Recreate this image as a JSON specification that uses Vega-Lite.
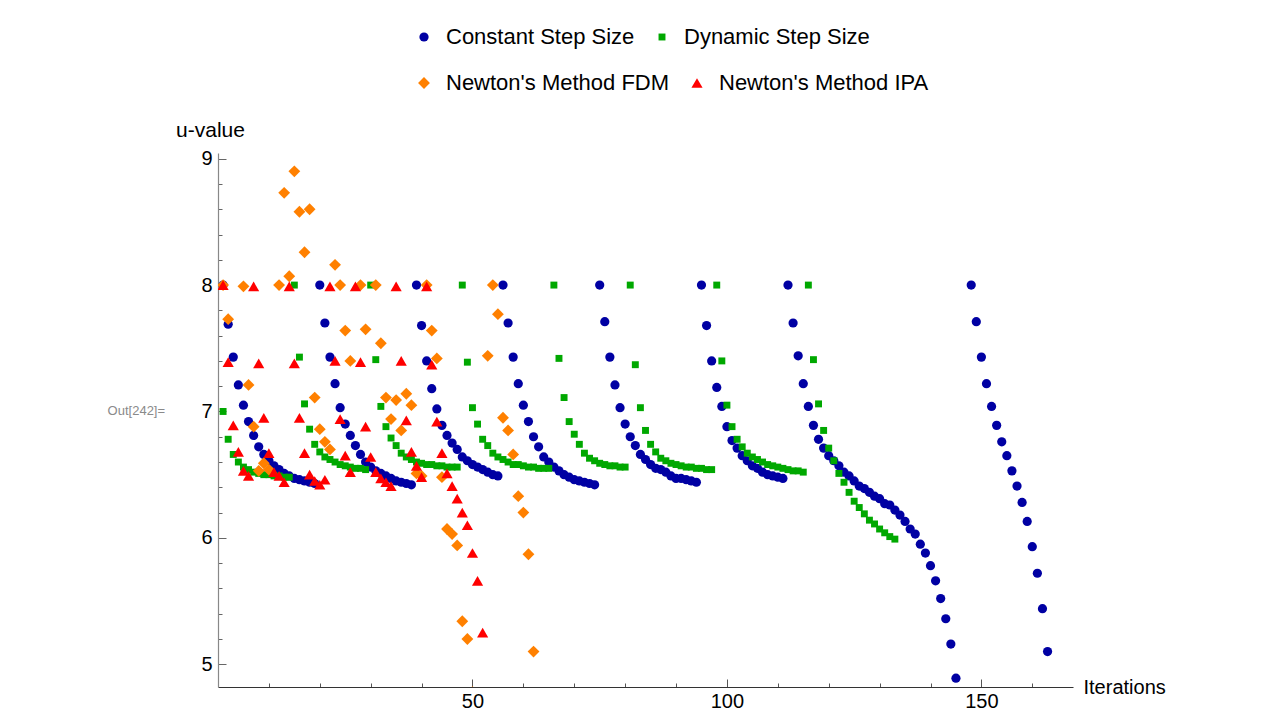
{
"$schema":"https://vega.github.io/schema/vega-lite/v6.json",
"width":855,"height":534,
"autosize":{"type":"none"},
"padding":{"left":218,"top":153,"right":201,"bottom":37},
"config":{"font":"Liberation Sans","view":{"stroke":null},"axis":{"grid":false,"labelColor":"#000","titleColor":"#000","titleFontWeight":"normal","labelOverlap":false,"labelFlush":false}},
"layer":[
{"data":{"values":[
{"method":"Constant Step Size","iteration":1,"u":8.0},{"method":"Constant Step Size","iteration":2,"u":7.69},{"method":"Constant Step Size","iteration":3,"u":7.43},{"method":"Constant Step Size","iteration":4,"u":7.21},{"method":"Constant Step Size","iteration":5,"u":7.05},{"method":"Constant Step Size","iteration":6,"u":6.92},{"method":"Constant Step Size","iteration":7,"u":6.81},{"method":"Constant Step Size","iteration":8,"u":6.72},{"method":"Constant Step Size","iteration":9,"u":6.66},{"method":"Constant Step Size","iteration":10,"u":6.61},{"method":"Constant Step Size","iteration":11,"u":6.57},{"method":"Constant Step Size","iteration":12,"u":6.54},{"method":"Constant Step Size","iteration":13,"u":6.51},{"method":"Constant Step Size","iteration":14,"u":6.49},{"method":"Constant Step Size","iteration":15,"u":6.47},{"method":"Constant Step Size","iteration":16,"u":6.46},{"method":"Constant Step Size","iteration":17,"u":6.45},{"method":"Constant Step Size","iteration":18,"u":6.44},{"method":"Constant Step Size","iteration":19,"u":6.43},
{"method":"Constant Step Size","iteration":20,"u":8.0},{"method":"Constant Step Size","iteration":21,"u":7.70},{"method":"Constant Step Size","iteration":22,"u":7.43},{"method":"Constant Step Size","iteration":23,"u":7.22},{"method":"Constant Step Size","iteration":24,"u":7.03},{"method":"Constant Step Size","iteration":25,"u":6.90},{"method":"Constant Step Size","iteration":26,"u":6.81},{"method":"Constant Step Size","iteration":27,"u":6.73},{"method":"Constant Step Size","iteration":28,"u":6.66},{"method":"Constant Step Size","iteration":29,"u":6.60},{"method":"Constant Step Size","iteration":30,"u":6.56},{"method":"Constant Step Size","iteration":31,"u":6.53},{"method":"Constant Step Size","iteration":32,"u":6.51},{"method":"Constant Step Size","iteration":33,"u":6.49},{"method":"Constant Step Size","iteration":34,"u":6.47},{"method":"Constant Step Size","iteration":35,"u":6.45},{"method":"Constant Step Size","iteration":36,"u":6.44},{"method":"Constant Step Size","iteration":37,"u":6.43},{"method":"Constant Step Size","iteration":38,"u":6.42},
{"method":"Constant Step Size","iteration":39,"u":8.0},{"method":"Constant Step Size","iteration":40,"u":7.68},{"method":"Constant Step Size","iteration":41,"u":7.40},{"method":"Constant Step Size","iteration":42,"u":7.18},{"method":"Constant Step Size","iteration":43,"u":7.02},{"method":"Constant Step Size","iteration":44,"u":6.89},{"method":"Constant Step Size","iteration":45,"u":6.81},{"method":"Constant Step Size","iteration":46,"u":6.75},{"method":"Constant Step Size","iteration":47,"u":6.70},{"method":"Constant Step Size","iteration":48,"u":6.64},{"method":"Constant Step Size","iteration":49,"u":6.61},{"method":"Constant Step Size","iteration":50,"u":6.58},{"method":"Constant Step Size","iteration":51,"u":6.56},{"method":"Constant Step Size","iteration":52,"u":6.54},{"method":"Constant Step Size","iteration":53,"u":6.52},{"method":"Constant Step Size","iteration":54,"u":6.50},{"method":"Constant Step Size","iteration":55,"u":6.49},
{"method":"Constant Step Size","iteration":56,"u":8.0},{"method":"Constant Step Size","iteration":57,"u":7.70},{"method":"Constant Step Size","iteration":58,"u":7.43},{"method":"Constant Step Size","iteration":59,"u":7.22},{"method":"Constant Step Size","iteration":60,"u":7.05},{"method":"Constant Step Size","iteration":61,"u":6.92},{"method":"Constant Step Size","iteration":62,"u":6.80},{"method":"Constant Step Size","iteration":63,"u":6.72},{"method":"Constant Step Size","iteration":64,"u":6.64},{"method":"Constant Step Size","iteration":65,"u":6.60},{"method":"Constant Step Size","iteration":66,"u":6.56},{"method":"Constant Step Size","iteration":67,"u":6.53},{"method":"Constant Step Size","iteration":68,"u":6.50},{"method":"Constant Step Size","iteration":69,"u":6.48},{"method":"Constant Step Size","iteration":70,"u":6.46},{"method":"Constant Step Size","iteration":71,"u":6.45},{"method":"Constant Step Size","iteration":72,"u":6.44},{"method":"Constant Step Size","iteration":73,"u":6.43},{"method":"Constant Step Size","iteration":74,"u":6.42},
{"method":"Constant Step Size","iteration":75,"u":8.0},{"method":"Constant Step Size","iteration":76,"u":7.71},{"method":"Constant Step Size","iteration":77,"u":7.43},{"method":"Constant Step Size","iteration":78,"u":7.21},{"method":"Constant Step Size","iteration":79,"u":7.03},{"method":"Constant Step Size","iteration":80,"u":6.90},{"method":"Constant Step Size","iteration":81,"u":6.80},{"method":"Constant Step Size","iteration":82,"u":6.73},{"method":"Constant Step Size","iteration":83,"u":6.66},{"method":"Constant Step Size","iteration":84,"u":6.62},{"method":"Constant Step Size","iteration":85,"u":6.58},{"method":"Constant Step Size","iteration":86,"u":6.55},{"method":"Constant Step Size","iteration":87,"u":6.54},{"method":"Constant Step Size","iteration":88,"u":6.52},{"method":"Constant Step Size","iteration":89,"u":6.49},{"method":"Constant Step Size","iteration":90,"u":6.47},{"method":"Constant Step Size","iteration":91,"u":6.47},{"method":"Constant Step Size","iteration":92,"u":6.46},{"method":"Constant Step Size","iteration":93,"u":6.45},{"method":"Constant Step Size","iteration":94,"u":6.44},
{"method":"Constant Step Size","iteration":95,"u":8.0},{"method":"Constant Step Size","iteration":96,"u":7.68},{"method":"Constant Step Size","iteration":97,"u":7.40},{"method":"Constant Step Size","iteration":98,"u":7.19},{"method":"Constant Step Size","iteration":99,"u":7.04},{"method":"Constant Step Size","iteration":100,"u":6.88},{"method":"Constant Step Size","iteration":101,"u":6.77},{"method":"Constant Step Size","iteration":102,"u":6.71},{"method":"Constant Step Size","iteration":103,"u":6.65},{"method":"Constant Step Size","iteration":104,"u":6.61},{"method":"Constant Step Size","iteration":105,"u":6.57},{"method":"Constant Step Size","iteration":106,"u":6.55},{"method":"Constant Step Size","iteration":107,"u":6.52},{"method":"Constant Step Size","iteration":108,"u":6.50},{"method":"Constant Step Size","iteration":109,"u":6.49},{"method":"Constant Step Size","iteration":110,"u":6.48},{"method":"Constant Step Size","iteration":111,"u":6.47},
{"method":"Constant Step Size","iteration":112,"u":8.0},{"method":"Constant Step Size","iteration":113,"u":7.70},{"method":"Constant Step Size","iteration":114,"u":7.44},{"method":"Constant Step Size","iteration":115,"u":7.22},{"method":"Constant Step Size","iteration":116,"u":7.04},{"method":"Constant Step Size","iteration":117,"u":6.89},{"method":"Constant Step Size","iteration":118,"u":6.78},{"method":"Constant Step Size","iteration":119,"u":6.71},{"method":"Constant Step Size","iteration":120,"u":6.65},{"method":"Constant Step Size","iteration":121,"u":6.61},{"method":"Constant Step Size","iteration":122,"u":6.57},{"method":"Constant Step Size","iteration":123,"u":6.52},{"method":"Constant Step Size","iteration":124,"u":6.49},{"method":"Constant Step Size","iteration":125,"u":6.45},{"method":"Constant Step Size","iteration":126,"u":6.41},{"method":"Constant Step Size","iteration":127,"u":6.39},{"method":"Constant Step Size","iteration":128,"u":6.36},{"method":"Constant Step Size","iteration":129,"u":6.33},{"method":"Constant Step Size","iteration":130,"u":6.31},{"method":"Constant Step Size","iteration":131,"u":6.27},{"method":"Constant Step Size","iteration":132,"u":6.26},{"method":"Constant Step Size","iteration":133,"u":6.22},{"method":"Constant Step Size","iteration":134,"u":6.18},{"method":"Constant Step Size","iteration":135,"u":6.13},{"method":"Constant Step Size","iteration":136,"u":6.07},{"method":"Constant Step Size","iteration":137,"u":6.03},{"method":"Constant Step Size","iteration":138,"u":5.95},{"method":"Constant Step Size","iteration":139,"u":5.88},{"method":"Constant Step Size","iteration":140,"u":5.78},{"method":"Constant Step Size","iteration":141,"u":5.66},{"method":"Constant Step Size","iteration":142,"u":5.52},{"method":"Constant Step Size","iteration":143,"u":5.36},{"method":"Constant Step Size","iteration":144,"u":5.16},{"method":"Constant Step Size","iteration":145,"u":4.89},
{"method":"Constant Step Size","iteration":148,"u":8.0},{"method":"Constant Step Size","iteration":149,"u":7.71},{"method":"Constant Step Size","iteration":150,"u":7.43},{"method":"Constant Step Size","iteration":151,"u":7.22},{"method":"Constant Step Size","iteration":152,"u":7.04},{"method":"Constant Step Size","iteration":153,"u":6.89},{"method":"Constant Step Size","iteration":154,"u":6.76},{"method":"Constant Step Size","iteration":155,"u":6.65},{"method":"Constant Step Size","iteration":156,"u":6.53},{"method":"Constant Step Size","iteration":157,"u":6.41},{"method":"Constant Step Size","iteration":158,"u":6.28},{"method":"Constant Step Size","iteration":159,"u":6.13},{"method":"Constant Step Size","iteration":160,"u":5.93},{"method":"Constant Step Size","iteration":161,"u":5.72},{"method":"Constant Step Size","iteration":162,"u":5.44},{"method":"Constant Step Size","iteration":163,"u":5.10},
{"method":"Dynamic Step Size","iteration":1,"u":7.0},{"method":"Dynamic Step Size","iteration":2,"u":6.78},{"method":"Dynamic Step Size","iteration":3,"u":6.66},{"method":"Dynamic Step Size","iteration":4,"u":6.60},{"method":"Dynamic Step Size","iteration":5,"u":6.56},{"method":"Dynamic Step Size","iteration":6,"u":6.54},{"method":"Dynamic Step Size","iteration":7,"u":6.52},{"method":"Dynamic Step Size","iteration":8,"u":6.51},{"method":"Dynamic Step Size","iteration":9,"u":6.50},{"method":"Dynamic Step Size","iteration":10,"u":6.50},{"method":"Dynamic Step Size","iteration":11,"u":6.49},{"method":"Dynamic Step Size","iteration":12,"u":6.49},{"method":"Dynamic Step Size","iteration":13,"u":6.48},{"method":"Dynamic Step Size","iteration":14,"u":6.48},
{"method":"Dynamic Step Size","iteration":15,"u":8.0},{"method":"Dynamic Step Size","iteration":16,"u":7.43},{"method":"Dynamic Step Size","iteration":17,"u":7.06},{"method":"Dynamic Step Size","iteration":18,"u":6.86},{"method":"Dynamic Step Size","iteration":19,"u":6.74},{"method":"Dynamic Step Size","iteration":20,"u":6.68},{"method":"Dynamic Step Size","iteration":21,"u":6.64},{"method":"Dynamic Step Size","iteration":22,"u":6.62},{"method":"Dynamic Step Size","iteration":23,"u":6.60},{"method":"Dynamic Step Size","iteration":24,"u":6.58},{"method":"Dynamic Step Size","iteration":25,"u":6.57},{"method":"Dynamic Step Size","iteration":26,"u":6.56},{"method":"Dynamic Step Size","iteration":27,"u":6.55},{"method":"Dynamic Step Size","iteration":28,"u":6.55},{"method":"Dynamic Step Size","iteration":29,"u":6.54},
{"method":"Dynamic Step Size","iteration":30,"u":8.0},{"method":"Dynamic Step Size","iteration":31,"u":7.41},{"method":"Dynamic Step Size","iteration":32,"u":7.04},{"method":"Dynamic Step Size","iteration":33,"u":6.88},{"method":"Dynamic Step Size","iteration":34,"u":6.79},{"method":"Dynamic Step Size","iteration":35,"u":6.73},{"method":"Dynamic Step Size","iteration":36,"u":6.67},{"method":"Dynamic Step Size","iteration":37,"u":6.64},{"method":"Dynamic Step Size","iteration":38,"u":6.62},{"method":"Dynamic Step Size","iteration":39,"u":6.60},{"method":"Dynamic Step Size","iteration":40,"u":6.59},{"method":"Dynamic Step Size","iteration":41,"u":6.58},{"method":"Dynamic Step Size","iteration":42,"u":6.58},{"method":"Dynamic Step Size","iteration":43,"u":6.57},{"method":"Dynamic Step Size","iteration":44,"u":6.57},{"method":"Dynamic Step Size","iteration":45,"u":6.56},{"method":"Dynamic Step Size","iteration":46,"u":6.56},{"method":"Dynamic Step Size","iteration":47,"u":6.56},
{"method":"Dynamic Step Size","iteration":48,"u":8.0},{"method":"Dynamic Step Size","iteration":49,"u":7.39},{"method":"Dynamic Step Size","iteration":50,"u":7.03},{"method":"Dynamic Step Size","iteration":51,"u":6.90},{"method":"Dynamic Step Size","iteration":52,"u":6.78},{"method":"Dynamic Step Size","iteration":53,"u":6.73},{"method":"Dynamic Step Size","iteration":54,"u":6.67},{"method":"Dynamic Step Size","iteration":55,"u":6.64},{"method":"Dynamic Step Size","iteration":56,"u":6.62},{"method":"Dynamic Step Size","iteration":57,"u":6.60},{"method":"Dynamic Step Size","iteration":58,"u":6.58},{"method":"Dynamic Step Size","iteration":59,"u":6.58},{"method":"Dynamic Step Size","iteration":60,"u":6.57},{"method":"Dynamic Step Size","iteration":61,"u":6.56},{"method":"Dynamic Step Size","iteration":62,"u":6.56},{"method":"Dynamic Step Size","iteration":63,"u":6.55},{"method":"Dynamic Step Size","iteration":64,"u":6.55},{"method":"Dynamic Step Size","iteration":65,"u":6.55},
{"method":"Dynamic Step Size","iteration":66,"u":8.0},{"method":"Dynamic Step Size","iteration":67,"u":7.42},{"method":"Dynamic Step Size","iteration":68,"u":7.11},{"method":"Dynamic Step Size","iteration":69,"u":6.92},{"method":"Dynamic Step Size","iteration":70,"u":6.82},{"method":"Dynamic Step Size","iteration":71,"u":6.74},{"method":"Dynamic Step Size","iteration":72,"u":6.67},{"method":"Dynamic Step Size","iteration":73,"u":6.63},{"method":"Dynamic Step Size","iteration":74,"u":6.61},{"method":"Dynamic Step Size","iteration":75,"u":6.59},{"method":"Dynamic Step Size","iteration":76,"u":6.58},{"method":"Dynamic Step Size","iteration":77,"u":6.57},{"method":"Dynamic Step Size","iteration":78,"u":6.57},{"method":"Dynamic Step Size","iteration":79,"u":6.56},{"method":"Dynamic Step Size","iteration":80,"u":6.56},
{"method":"Dynamic Step Size","iteration":81,"u":8.0},{"method":"Dynamic Step Size","iteration":82,"u":7.37},{"method":"Dynamic Step Size","iteration":83,"u":7.03},{"method":"Dynamic Step Size","iteration":84,"u":6.85},{"method":"Dynamic Step Size","iteration":85,"u":6.74},{"method":"Dynamic Step Size","iteration":86,"u":6.68},{"method":"Dynamic Step Size","iteration":87,"u":6.63},{"method":"Dynamic Step Size","iteration":88,"u":6.61},{"method":"Dynamic Step Size","iteration":89,"u":6.59},{"method":"Dynamic Step Size","iteration":90,"u":6.58},{"method":"Dynamic Step Size","iteration":91,"u":6.57},{"method":"Dynamic Step Size","iteration":92,"u":6.56},{"method":"Dynamic Step Size","iteration":93,"u":6.56},{"method":"Dynamic Step Size","iteration":94,"u":6.55},{"method":"Dynamic Step Size","iteration":95,"u":6.55},{"method":"Dynamic Step Size","iteration":96,"u":6.54},{"method":"Dynamic Step Size","iteration":97,"u":6.54},
{"method":"Dynamic Step Size","iteration":98,"u":8.0},{"method":"Dynamic Step Size","iteration":99,"u":7.40},{"method":"Dynamic Step Size","iteration":100,"u":7.05},{"method":"Dynamic Step Size","iteration":101,"u":6.88},{"method":"Dynamic Step Size","iteration":102,"u":6.78},{"method":"Dynamic Step Size","iteration":103,"u":6.72},{"method":"Dynamic Step Size","iteration":104,"u":6.67},{"method":"Dynamic Step Size","iteration":105,"u":6.64},{"method":"Dynamic Step Size","iteration":106,"u":6.62},{"method":"Dynamic Step Size","iteration":107,"u":6.60},{"method":"Dynamic Step Size","iteration":108,"u":6.58},{"method":"Dynamic Step Size","iteration":109,"u":6.57},{"method":"Dynamic Step Size","iteration":110,"u":6.56},{"method":"Dynamic Step Size","iteration":111,"u":6.55},{"method":"Dynamic Step Size","iteration":112,"u":6.54},{"method":"Dynamic Step Size","iteration":113,"u":6.53},{"method":"Dynamic Step Size","iteration":114,"u":6.53},{"method":"Dynamic Step Size","iteration":115,"u":6.52},
{"method":"Dynamic Step Size","iteration":116,"u":8.0},{"method":"Dynamic Step Size","iteration":117,"u":7.41},{"method":"Dynamic Step Size","iteration":118,"u":7.06},{"method":"Dynamic Step Size","iteration":119,"u":6.85},{"method":"Dynamic Step Size","iteration":120,"u":6.71},{"method":"Dynamic Step Size","iteration":121,"u":6.61},{"method":"Dynamic Step Size","iteration":122,"u":6.51},{"method":"Dynamic Step Size","iteration":123,"u":6.44},{"method":"Dynamic Step Size","iteration":124,"u":6.36},{"method":"Dynamic Step Size","iteration":125,"u":6.29},{"method":"Dynamic Step Size","iteration":126,"u":6.24},{"method":"Dynamic Step Size","iteration":127,"u":6.19},{"method":"Dynamic Step Size","iteration":128,"u":6.14},{"method":"Dynamic Step Size","iteration":129,"u":6.11},{"method":"Dynamic Step Size","iteration":130,"u":6.07},{"method":"Dynamic Step Size","iteration":131,"u":6.04},{"method":"Dynamic Step Size","iteration":132,"u":6.01},{"method":"Dynamic Step Size","iteration":133,"u":5.99}
]},
"mark":{"type":"point","filled":true,"opacity":1,"clip":true},
"encoding":{
"x":{"field":"iteration","type":"quantitative","scale":{"domain":[0,168],"nice":false,"zero":false},
"axis":{"values":[10,20,30,40,50,60,70,80,90,100,110,120,130,140,150,160],"tickCount":100,"labelExpr":"datum.value % 50 === 0 ? datum.label : ''","labelOverlap":false,"tickSize":{"condition":{"test":"datum.value % 50 === 0","value":-8},"value":-4},"tickWidth":1,"labelPadding":12,"labelFontSize":20,"domainColor":"#333","domainWidth":1.2,"tickColor":"#555","title":"Iterations","titleFontSize":20,"titleAlign":"left","titleBaseline":"middle","titleAnchor":"start","titleX":865,"titleY":0}},
"y":{"field":"u","type":"quantitative","scale":{"domain":[4.82,9.045],"nice":false,"zero":false},
"axis":{"values":[5,5.2,5.4,5.6,5.8,6,6.2,6.4,6.6,6.8,7,7.2,7.4,7.6,7.8,8,8.2,8.4,8.6,8.8,9],"tickCount":100,"labelExpr":"abs(datum.value-round(datum.value))<0.001 ? format(datum.value,'d') : ''","labelOverlap":false,"tickSize":{"condition":{"test":"abs(datum.value-round(datum.value))<0.001","value":-8},"value":-4},"tickWidth":1,"labelPadding":14,"labelFontSize":20,"domainColor":"#888","domainWidth":1.2,"tickColor":"#666","title":"u-value","titleFontSize":21,"titleAngle":0,"titleAlign":"center","titleBaseline":"middle","titleX":-8,"titleY":-23}},
"color":{"field":"method","type":"nominal","scale":{"domain":["Constant Step Size","Dynamic Step Size"],"range":["#0000a3","#00a800"]},
"legend":{"title":null,"orient":"none","legendX":195,"legendY":-127,"direction":"horizontal","labelFontSize":22,"labelLimit":0,"labelOffset":11,"columnPadding":16,"padding":0,"labelColor":"#000","symbolOpacity":1}},
"shape":{"field":"method","type":"nominal","scale":{"domain":["Constant Step Size","Dynamic Step Size"],"range":["circle","square"]}},
"size":{"field":"method","type":"nominal","scale":{"domain":["Constant Step Size","Dynamic Step Size"],"range":[85,48]}}
}},
{"data":{"values":[
{"method":"Newton's Method FDM","iteration":1,"u":8.0},{"method":"Newton's Method FDM","iteration":2,"u":7.73},{"method":"Newton's Method FDM","iteration":5,"u":7.99},{"method":"Newton's Method FDM","iteration":6,"u":7.21},{"method":"Newton's Method FDM","iteration":7,"u":6.88},{"method":"Newton's Method FDM","iteration":8,"u":6.53},{"method":"Newton's Method FDM","iteration":9,"u":6.59},{"method":"Newton's Method FDM","iteration":10,"u":6.54},{"method":"Newton's Method FDM","iteration":12,"u":8.0},{"method":"Newton's Method FDM","iteration":13,"u":8.73},{"method":"Newton's Method FDM","iteration":14,"u":8.07},{"method":"Newton's Method FDM","iteration":15,"u":8.90},{"method":"Newton's Method FDM","iteration":16,"u":8.58},{"method":"Newton's Method FDM","iteration":17,"u":8.26},{"method":"Newton's Method FDM","iteration":18,"u":8.60},{"method":"Newton's Method FDM","iteration":19,"u":7.11},{"method":"Newton's Method FDM","iteration":20,"u":6.86},{"method":"Newton's Method FDM","iteration":21,"u":6.76},{"method":"Newton's Method FDM","iteration":22,"u":6.70},{"method":"Newton's Method FDM","iteration":23,"u":8.16},{"method":"Newton's Method FDM","iteration":24,"u":8.0},{"method":"Newton's Method FDM","iteration":25,"u":7.64},{"method":"Newton's Method FDM","iteration":26,"u":7.40},{"method":"Newton's Method FDM","iteration":28,"u":8.0},{"method":"Newton's Method FDM","iteration":29,"u":7.65},{"method":"Newton's Method FDM","iteration":31,"u":8.0},{"method":"Newton's Method FDM","iteration":32,"u":7.54},{"method":"Newton's Method FDM","iteration":33,"u":7.11},{"method":"Newton's Method FDM","iteration":34,"u":6.94},{"method":"Newton's Method FDM","iteration":35,"u":7.09},{"method":"Newton's Method FDM","iteration":36,"u":6.85},{"method":"Newton's Method FDM","iteration":37,"u":7.14},{"method":"Newton's Method FDM","iteration":38,"u":7.05},{"method":"Newton's Method FDM","iteration":39,"u":6.51},{"method":"Newton's Method FDM","iteration":40,"u":6.49},{"method":"Newton's Method FDM","iteration":41,"u":8.0},{"method":"Newton's Method FDM","iteration":42,"u":7.64},{"method":"Newton's Method FDM","iteration":43,"u":7.42},{"method":"Newton's Method FDM","iteration":44,"u":6.48},{"method":"Newton's Method FDM","iteration":45,"u":6.07},{"method":"Newton's Method FDM","iteration":46,"u":6.03},{"method":"Newton's Method FDM","iteration":47,"u":5.94},{"method":"Newton's Method FDM","iteration":48,"u":5.34},{"method":"Newton's Method FDM","iteration":49,"u":5.20},{"method":"Newton's Method FDM","iteration":50,"u":4.78},{"method":"Newton's Method FDM","iteration":53,"u":7.44},{"method":"Newton's Method FDM","iteration":54,"u":8.0},{"method":"Newton's Method FDM","iteration":55,"u":7.77},{"method":"Newton's Method FDM","iteration":56,"u":6.95},{"method":"Newton's Method FDM","iteration":57,"u":6.85},{"method":"Newton's Method FDM","iteration":58,"u":6.66},{"method":"Newton's Method FDM","iteration":59,"u":6.33},{"method":"Newton's Method FDM","iteration":60,"u":6.20},{"method":"Newton's Method FDM","iteration":61,"u":5.87},{"method":"Newton's Method FDM","iteration":62,"u":5.10},
{"method":"Newton's Method IPA","iteration":1,"u":8.0},{"method":"Newton's Method IPA","iteration":2,"u":7.39},{"method":"Newton's Method IPA","iteration":3,"u":6.89},{"method":"Newton's Method IPA","iteration":4,"u":6.68},{"method":"Newton's Method IPA","iteration":5,"u":6.53},{"method":"Newton's Method IPA","iteration":6,"u":6.49},{"method":"Newton's Method IPA","iteration":7,"u":7.99},{"method":"Newton's Method IPA","iteration":8,"u":7.38},{"method":"Newton's Method IPA","iteration":9,"u":6.95},{"method":"Newton's Method IPA","iteration":10,"u":6.67},{"method":"Newton's Method IPA","iteration":11,"u":6.52},{"method":"Newton's Method IPA","iteration":12,"u":6.49},{"method":"Newton's Method IPA","iteration":13,"u":6.44},{"method":"Newton's Method IPA","iteration":14,"u":7.99},{"method":"Newton's Method IPA","iteration":15,"u":7.38},{"method":"Newton's Method IPA","iteration":16,"u":6.95},{"method":"Newton's Method IPA","iteration":17,"u":6.67},{"method":"Newton's Method IPA","iteration":18,"u":6.50},{"method":"Newton's Method IPA","iteration":19,"u":6.45},{"method":"Newton's Method IPA","iteration":20,"u":6.42},{"method":"Newton's Method IPA","iteration":21,"u":6.46},{"method":"Newton's Method IPA","iteration":22,"u":7.99},{"method":"Newton's Method IPA","iteration":23,"u":7.40},{"method":"Newton's Method IPA","iteration":24,"u":6.94},{"method":"Newton's Method IPA","iteration":25,"u":6.65},{"method":"Newton's Method IPA","iteration":26,"u":6.52},{"method":"Newton's Method IPA","iteration":27,"u":7.99},{"method":"Newton's Method IPA","iteration":28,"u":7.39},{"method":"Newton's Method IPA","iteration":29,"u":6.88},{"method":"Newton's Method IPA","iteration":30,"u":6.64},{"method":"Newton's Method IPA","iteration":31,"u":6.52},{"method":"Newton's Method IPA","iteration":32,"u":6.47},{"method":"Newton's Method IPA","iteration":33,"u":6.44},{"method":"Newton's Method IPA","iteration":34,"u":6.41},{"method":"Newton's Method IPA","iteration":35,"u":7.99},{"method":"Newton's Method IPA","iteration":36,"u":7.40},{"method":"Newton's Method IPA","iteration":37,"u":6.93},{"method":"Newton's Method IPA","iteration":38,"u":6.68},{"method":"Newton's Method IPA","iteration":39,"u":6.57},{"method":"Newton's Method IPA","iteration":40,"u":6.48},{"method":"Newton's Method IPA","iteration":41,"u":7.99},{"method":"Newton's Method IPA","iteration":42,"u":7.37},{"method":"Newton's Method IPA","iteration":43,"u":6.92},{"method":"Newton's Method IPA","iteration":44,"u":6.67},{"method":"Newton's Method IPA","iteration":45,"u":6.51},{"method":"Newton's Method IPA","iteration":46,"u":6.41},{"method":"Newton's Method IPA","iteration":47,"u":6.31},{"method":"Newton's Method IPA","iteration":48,"u":6.20},{"method":"Newton's Method IPA","iteration":49,"u":6.10},{"method":"Newton's Method IPA","iteration":50,"u":5.88},{"method":"Newton's Method IPA","iteration":51,"u":5.66},{"method":"Newton's Method IPA","iteration":52,"u":5.25}
]},
"mark":{"type":"point","filled":true,"opacity":1,"clip":true},
"encoding":{
"x":{"field":"iteration","type":"quantitative"},
"y":{"field":"u","type":"quantitative"},
"color":{"field":"method","type":"nominal","scale":{"domain":["Newton's Method FDM","Newton's Method IPA"],"range":["#ff8000","#ff0000"]},
"legend":{"title":null,"orient":"none","legendX":195,"legendY":-81,"direction":"horizontal","labelFontSize":22,"labelLimit":0,"labelOffset":11,"columnPadding":16,"padding":0,"labelColor":"#000","symbolOpacity":1}},
"shape":{"field":"method","type":"nominal","scale":{"domain":["Newton's Method FDM","Newton's Method IPA"],"range":["diamond","triangle-up"]}},
"size":{"field":"method","type":"nominal","scale":{"domain":["Newton's Method FDM","Newton's Method IPA"],"range":[140,125]}}
}},
{"data":{"values":[{"label":"Out[242]="}]},
"mark":{"type":"text","align":"right","baseline":"middle","fontSize":13,"color":"#8a8a8a","clip":false},
"encoding":{"text":{"field":"label","type":"nominal"},"x":{"datum":-10.4,"type":"quantitative"},"y":{"datum":7,"type":"quantitative"}}}
],
"resolve":{"scale":{"color":"independent","shape":"independent","size":"independent"},"legend":{"color":"independent","shape":"independent","size":"independent"}}
}
